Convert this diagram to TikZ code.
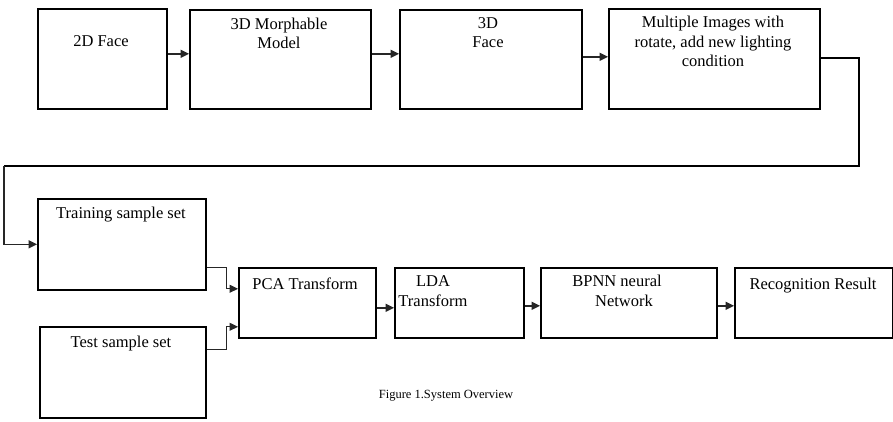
\documentclass[tikz,border=0pt]{standalone}
\usepackage{fontspec}
\setmainfont{Liberation Serif}
\usetikzlibrary{arrows.meta}
\begin{document}
\begin{tikzpicture}[x=1pt,y=-1pt,
  box/.style={draw=black,line width=1.6pt,rectangle,inner sep=0pt,anchor=north west},
  txt/.style={inner sep=0pt,anchor=base,align=center,font=\fontsize{16.5}{19.5}\selectfont},
  arr/.style={draw=black!85,line width=1.6pt,-{Triangle[length=8.5pt,width=8pt]}},
  link/.style={draw=black,line width=1.5pt}]
\useasboundingbox (0,0) rectangle (893,422);

% upper row
\node[box,minimum width=129pt,minimum height=100pt] (face2d) at (37,8) {};
\node[box,minimum width=181pt,minimum height=99pt] (morph) at (189,9) {};
\node[box,minimum width=182pt,minimum height=99pt] (face3d) at (399,9) {};
\node[box,minimum width=211pt,minimum height=100pt] (multi) at (608,8) {};

% multi-line labels are placed by the baseline of their last line
\node[txt] (t1) at (101,47) {2D Face};
\node[txt] (t2) at (279,49) {3D Morphable\\Model};
\node[txt] (t3) at (488,48) {3D\\Face};
\node[txt] (t4) at (713,67) {Multiple Images with\\rotate, add new lighting\\condition};

% lower rows
\node[box,minimum width=168pt,minimum height=91pt] (train) at (37,198) {};
\node[box,minimum width=166pt,minimum height=91pt] (test) at (39,326) {};
\node[box,minimum width=137pt,minimum height=70pt] (pca) at (238,267) {};
\node[box,minimum width=129pt,minimum height=70pt] (lda) at (394,267) {};
\node[box,minimum width=176pt,minimum height=70pt] (bpnn) at (540,267) {};
\node[box,minimum width=158pt,minimum height=70pt] (recog) at (734,267) {};

\node[txt] (t5) at (121,218) {Training sample set};
\node[txt] (t6) at (121,347) {Test sample set};
\node[txt] (t7) at (305,289) {PCA Transform};
\node[txt] (t8) at (433,306) {LDA\\Transform};
\node[txt] (t9) at (617,306) {BPNN neural\\\hspace*{14pt}Network};
\node[txt] (t10) at (813,289) {Recognition Result};

\node[inner sep=0pt,anchor=base,font=\fontsize{12.5}{14}\selectfont] (cap) at (446,398) {Figure 1.System Overview};

% connectors
\draw[arr] ([yshift=5pt]face2d.east) -- ([yshift=5pt]face2d.east -| morph.west);
\draw[arr] ([yshift=5.5pt]morph.east) -- ([yshift=5.5pt]morph.east -| face3d.west);
\draw[arr] ([yshift=2.5pt]face3d.east) -- ([yshift=2.5pt]face3d.east -| multi.west);

\coordinate (bendR) at (859,166);
\coordinate (bendL) at (4,166);
\draw[link] ([yshift=1pt]multi.east) -| (bendR) -- (bendL);
\draw[arr] (bendL) |- (train.west);

\draw[arr,line width=1.2pt] ([yshift=-23.5pt]train.east) -- ++(20,0) |- ([yshift=14pt]pca.west);
\draw[arr,line width=1.2pt] ([yshift=22.5pt]test.east) -- ++(20,0) |- ([yshift=-24pt]pca.west);
\draw[arr] ([yshift=-5pt]pca.east) -- ([yshift=-5pt]pca.east -| lda.west);
\draw[arr] ([yshift=-3pt]lda.east) -- ([yshift=-3pt]lda.east -| bpnn.west);
\draw[arr] ([yshift=-3pt]bpnn.east) -- ([yshift=-3pt]bpnn.east -| recog.west);
\end{tikzpicture}
\end{document}
